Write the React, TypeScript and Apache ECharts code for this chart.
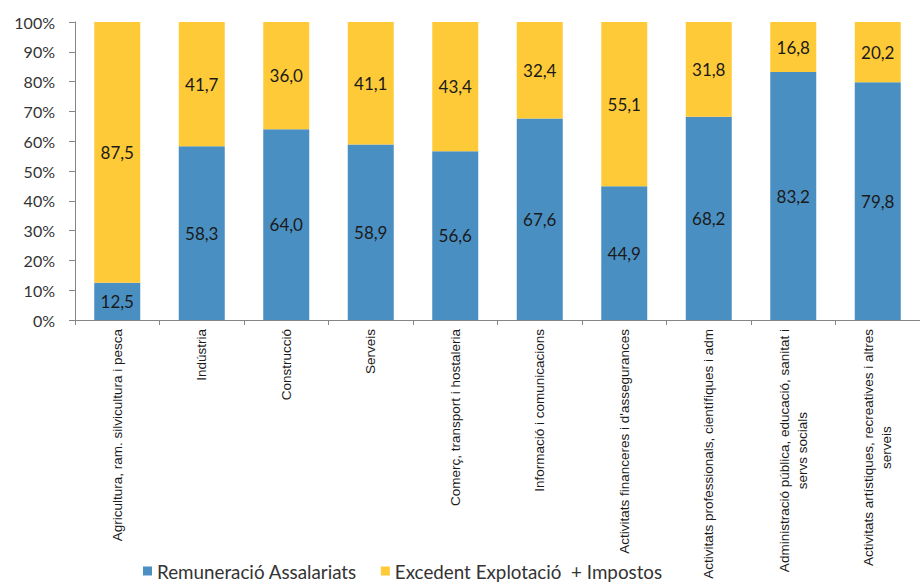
import React, { useEffect, useRef } from "react";
import * as echarts from "echarts";

const categories: string[] = [
  "Agricultura, ram. silvicultura i pesca",
  "Indústria",
  "Construcció",
  "Serveis",
  "Comerç, transport i hostaleria",
  "Informació i comunicacions",
  "Activitats financeres i d'assegurances",
  "Activitats professionals, científiques i adm",
  "Administració pública, educació, sanitat i\nservs socials",
  "Activitats artístiques, recreatives i altres\nserveis",
];

const remuneracio: number[] = [12.5, 58.3, 64.0, 58.9, 56.6, 67.6, 44.9, 68.2, 83.2, 79.8];
const excedent: number[] = [87.5, 41.7, 36.0, 41.1, 43.4, 32.4, 55.1, 31.8, 16.8, 20.2];

const seriesNames: string[] = ["Remuneració Assalariats", "Excedent Explotació  + Impostos"];

const fmt = (v: number) => v.toFixed(1).replace(".", ",");

export default function App() {
  const ref = useRef<HTMLDivElement>(null);
  useEffect(() => {
    document.body.style.margin = "0";
    if (!ref.current) return;
    const chart = echarts.init(ref.current, undefined, { renderer: "svg" });
    const barLabel = {
      show: true,
      position: "inside" as const,
      formatter: (p: any) => fmt(p.value),
      color: "#1a1a1a",
      fontFamily: "Lato",
      fontSize: 17,
    };
    chart.setOption({
      animation: false,
      backgroundColor: "#ffffff",
      grid: { left: 75, right: -12, top: 22, bottom: 263, containLabel: false },
      legend: {
        top: 561,
        left: 143,
        itemWidth: 9,
        itemHeight: 9,
        itemGap: 24,
        padding: 0,
        icon: "rect",
        textStyle: { fontFamily: "Lato", fontSize: 18.8, color: "#333", lineHeight: 20 },
        data: seriesNames,
      },
      xAxis: {
        type: "category",
        data: categories,
        axisLine: { lineStyle: { color: "#868686" } },
        axisTick: { show: true, length: 5, lineStyle: { color: "#868686" } },
        axisLabel: {
          interval: 0,
          rotate: 90,
          margin: 9,
          formatter: (v: string) => v.split("\n").map((l) => `{c|${l}}`).join("\n"),
          rich: {
            c: {
              align: "center",
              fontFamily: "Liberation Sans",
              fontSize: 13.5,
              lineHeight: 18,
              color: "#1a1a1a",
            },
          },
        },
      },
      yAxis: {
        type: "value",
        min: 0,
        max: 100,
        interval: 10,
        splitLine: { show: false },
        axisLine: { show: true, lineStyle: { color: "#868686" } },
        axisTick: { show: true, length: 6, lineStyle: { color: "#868686" } },
        axisLabel: {
          formatter: "{value}%",
          margin: 20,
          fontFamily: "Lato",
          fontSize: 16,
          color: "#333",
        },
      },
      series: [
        {
          name: seriesNames[0],
          type: "bar",
          stack: "total",
          barWidth: 46,
          data: remuneracio,
          itemStyle: { color: "#4A8FC2" },
          label: barLabel,
        },
        {
          name: seriesNames[1],
          type: "bar",
          stack: "total",
          barWidth: 46,
          data: excedent,
          itemStyle: { color: "#FFCA38" },
          label: barLabel,
        },
      ],
    });
    return () => chart.dispose();
  }, []);
  return <div ref={ref} style={{ width: 920, height: 583 }} />;
}
